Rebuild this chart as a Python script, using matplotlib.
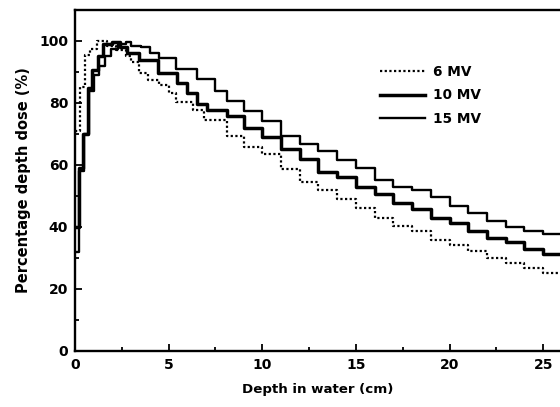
import matplotlib
matplotlib.use("Agg")
import matplotlib.pyplot as plt
import numpy as np
from matplotlib.ticker import MultipleLocator

plt.rcParams['font.family'] = ['DejaVu Sans']
plt.rcParams['font.weight'] = 'bold'

# Step bin left edges (cm) and dose values (%)
depth_6mv = [0, 0.25, 0.55, 0.8, 1.15, 1.7, 2.2, 2.7, 3.0, 3.4, 3.9, 4.5, 5.0, 5.4, 6.3, 6.9,
             8.1, 9, 10, 11, 12, 13, 14, 15, 16, 17, 18, 19, 20, 21, 22, 23, 24, 25, 26]
dose_6mv = [71, 85, 95.5, 97.5, 100, 98.5, 97, 95, 93.3, 89.6, 87.4, 85.8, 83.3, 80.4, 77.7, 74.5,
            69.4, 65.9, 63.5, 58.7, 54.4, 51.9, 49.0, 46.0, 43.0, 40.3, 38.6, 35.8, 34.2, 32.4, 30.1,
            28.5, 26.7, 25.3]

depth_10mv = [0, 0.2, 0.45, 0.7, 0.9, 1.2, 1.5, 2.0, 2.4, 2.8, 3.4, 4.45, 5.43, 5.96, 6.5, 7.03,
              8.1, 9, 10, 11, 12, 13, 14, 15, 16, 17, 18, 19, 20, 21, 22, 23, 24, 25, 26]
dose_10mv = [40, 59, 70, 84.8, 90.7, 95, 99, 99.5, 98, 96, 93.9, 89.6, 86.4, 83.1, 79.7, 77.7,
             75.8, 71.8, 69.0, 65.0, 61.8, 57.8, 56.0, 52.8, 50.6, 47.8, 45.7, 42.8, 41.2, 38.7,
             36.6, 35.3, 32.8, 31.3]

depth_15mv = [0, 0.2, 0.5, 0.75, 1.0, 1.3, 1.6, 1.9, 2.3, 2.7, 3.0, 3.5, 4.0, 4.5, 5.4, 6.5, 7.5,
              8.1, 9, 10, 11, 12, 13, 14, 15, 16, 17, 18, 19, 20, 21, 22, 23, 24, 25, 26]
dose_15mv = [32, 58, 70, 84, 89, 92, 95, 97.5, 99, 99.5, 98.5, 98, 96.2, 94.4, 90.8, 87.6, 83.7,
             80.6, 77.4, 74.2, 69.5, 66.8, 64.5, 61.6, 59.1, 55.2, 52.8, 52.0, 49.8, 46.8, 44.4,
             42.0, 40.1, 38.7, 37.6]

labels = ['6 MV', '10 MV', '15 MV']
x_ticks = [0, 5, 10, 15, 20, 25]
y_ticks = [0, 20, 40, 60, 80, 100]

fig = plt.figure(figsize=(5.6, 4.07), dpi=100)
ax = fig.add_axes([0.134, 0.1376, 0.866, 0.838])

def stepplot(d, v, **kw):
    ax.step(d, list(v) + [v[-1]], where='post', **kw)

stepplot(depth_6mv, dose_6mv, color='black', lw=1.6, ls=(0, (1, 1.1)), label=labels[0])
stepplot(depth_10mv, dose_10mv, color='black', lw=2.5, label=labels[1])
stepplot(depth_15mv, dose_15mv, color='black', lw=1.7, label=labels[2])

ax.set_xlim(0, 25.9)
ax.set_ylim(0, 110)
ax.set_xticks(x_ticks)
ax.set_yticks(y_ticks)
ax.xaxis.set_minor_locator(MultipleLocator(2.5))
ax.yaxis.set_minor_locator(MultipleLocator(10))
ax.tick_params(which='both', direction='in', labelsize=10, width=1.3, pad=5)
ax.tick_params(which='major', length=5)
ax.tick_params(which='minor', length=3)
ax.tick_params(top=False, right=False, which='both')
for lab in ax.get_xticklabels() + ax.get_yticklabels():
    lab.set_fontweight('bold')
for s in ['left', 'bottom', 'top']:
    ax.spines[s].set_linewidth(1.7)
ax.spines['right'].set_visible(False)

ax.set_xlabel('Depth in water (cm)', fontsize=9.6, fontweight='bold', labelpad=8)
ax.set_ylabel('Percentage depth dose (%)', fontsize=10.5, fontweight='bold', labelpad=6)

leg = ax.legend(loc='upper left', bbox_to_anchor=(0.629, 0.84), frameon=False,
                fontsize=9.8, handlelength=3.3, handletextpad=0.6, labelspacing=0.72,
                borderpad=0, borderaxespad=0)
for t in leg.get_texts():
    t.set_fontweight('bold')

fig.savefig('out.png', dpi=100)
